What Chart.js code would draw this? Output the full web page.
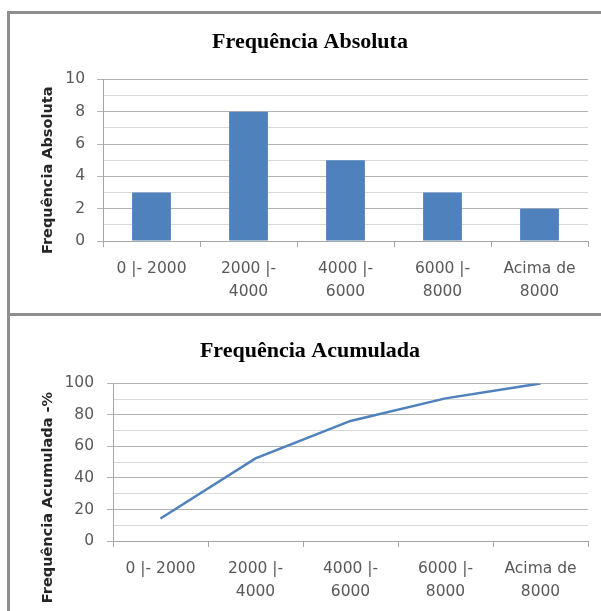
<!DOCTYPE html>
<html>
<head>
<meta charset="utf-8">
<script src="https://cdn.jsdelivr.net/npm/chart.js@4.4.1/dist/chart.umd.min.js"></script>
<style>
  html, body { margin: 0; padding: 0; background: #ffffff; }
  body { width: 601px; height: 611px; position: relative; overflow: hidden; }
  .box { position: absolute; }
  .line { position: absolute; background: #8e8e8e; }
</style>
</head>
<body>
<div class="box" style="left:10px; top:14px; width:591px; height:300px;"><canvas id="c1" width="591" height="300"></canvas></div>
<div class="box" style="left:10px; top:317px; width:591px; height:294px;"><canvas id="c2" width="591" height="294"></canvas></div>
<div class="line" style="left:7px; top:11px; width:3px; height:600px;"></div>
<div class="line" style="left:7px; top:11px; width:594px; height:3px;"></div>
<div class="line" style="left:7px; top:313px; width:594px; height:3px;"></div>
<script>
const categories = [["0 |- 2000"], ["2000 |-", "4000"], ["4000 |-", "6000"], ["6000 |-", "8000"], ["Acima de", "8000"]];
const freqAbsoluta = [3, 8, 5, 3, 2];
const freqAcumulada = [14.3, 52.4, 76.2, 90.5, 100];
const absTickLabels = [0, 2, 4, 6, 8, 10];
const acumTickLabels = [0, 20, 40, 60, 80, 100];

const BLUE = '#4F81BD';
const TICK_FONT = { family: 'DejaVu Sans', size: 15.5, lineHeight: 1.5 };
const TICK_COLOR = '#595959';

function yScale(max, step, labels, width, title, pad) {
  return {
    min: 0, max: max,
    afterFit: s => { s.width = width; },
    border: { display: true, color: '#a6a6a6', width: 1 },
    grid: {
      color: ctx => (labels.includes(ctx.tick && ctx.tick.value) ? '#b3b3b3' : '#d9d9d9'),
      tickColor: ctx => (labels.includes(ctx.tick && ctx.tick.value) ? '#b3b3b3' : 'rgba(0,0,0,0)'),
      tickLength: 6,
      drawTicks: true
    },
    ticks: {
      stepSize: step,
      autoSkip: false,
      padding: pad,
      color: TICK_COLOR,
      font: TICK_FONT,
      callback: v => (labels.includes(v) ? String(v) : '')
    },
    title: {
      display: true,
      text: title,
      color: '#262626',
      font: { family: 'DejaVu Sans', size: 14.5, weight: 'bold' },
      padding: { top: 30, bottom: 0 }
    }
  };
}

function xScale(height) {
  return {
    offset: true,
    afterFit: s => { s.height = height; },
    border: { display: true, color: '#a6a6a6', width: 1 },
    grid: { offset: true, drawOnChartArea: false, drawTicks: true, tickLength: 6, tickColor: '#a6a6a6' },
    ticks: { color: TICK_COLOR, font: TICK_FONT, padding: 10, maxRotation: 0, autoSkip: false }
  };
}

function titleOpts(text, top, bottom) {
  return {
    display: true,
    text: text,
    color: '#000000',
    font: { family: 'Liberation Serif', size: 22, weight: 'bold', lineHeight: 1.2 },
    padding: { top: top, bottom: bottom }
  };
}

new Chart(document.getElementById('c1'), {
  type: 'bar',
  data: {
    labels: categories,
    datasets: [{ data: freqAbsoluta, backgroundColor: BLUE, borderWidth: 0, categoryPercentage: 1.0, barPercentage: 0.4 }]
  },
  options: {
    responsive: false, animation: false,
    layout: { padding: { left: 0, right: 13, top: 0, bottom: 0 } },
    plugins: { legend: { display: false }, tooltip: { enabled: false }, title: titleOpts('    Frequência Absoluta', 15, 24) },
    scales: { x: xScale(73), y: yScale(10, 1, absTickLabels, 93, 'Frequência Absoluta    ', 12) }
  }
});

new Chart(document.getElementById('c2'), {
  type: 'line',
  data: {
    labels: categories,
    datasets: [{ data: freqAcumulada, borderColor: BLUE, borderWidth: 2.5, pointRadius: 0, fill: false, tension: 0 }]
  },
  options: {
    responsive: false, animation: false,
    layout: { padding: { left: 0, right: 13, top: 0, bottom: 0 } },
    plugins: { legend: { display: false }, tooltip: { enabled: false }, title: titleOpts('    Frequência Acumulada', 21, 19) },
    scales: { x: xScale(70), y: yScale(100, 10, acumTickLabels, 103, 'Frequência Acumulada -%              ', 13) }
  }
});
</script>
</body>
</html>
